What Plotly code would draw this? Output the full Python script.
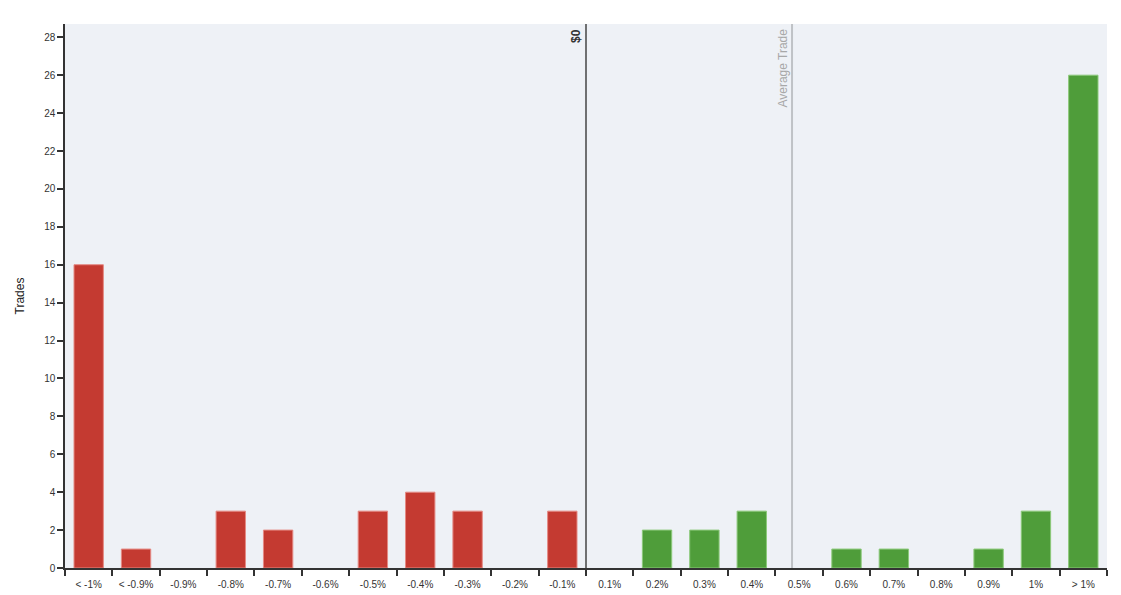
import plotly.graph_objects as go

# ================== DATA ==================
buckets = ['< -1%', '< -0.9%', '-0.9%', '-0.8%', '-0.7%', '-0.6%', '-0.5%', '-0.4%',
           '-0.3%', '-0.2%', '-0.1%', '0.1%', '0.2%', '0.3%', '0.4%', '0.5%',
           '0.6%', '0.7%', '0.8%', '0.9%', '1%', '> 1%']
trades = [16, 1, 0, 3, 2, 0, 3, 4, 3, 0, 3, 0, 2, 2, 3, 0, 1, 1, 0, 1, 3, 26]
y_ticks = list(range(0, 29, 2))
zero_pos = 10.5       # between -0.1% and 0.1%
avg_trade_pos = 14.85  # just left of the 0.5% bucket

RED = '#c43a31'
GREEN = '#4f9d3a'
colors = [RED if i < 11 else GREEN for i in range(len(buckets))]
edges = ['#e58a84' if i < 11 else '#8cc97a' for i in range(len(buckets))]
edge_w = [1 if v > 0 else 0 for v in trades]

fig = go.Figure()
fig.add_trace(go.Bar(x=list(range(len(buckets))), y=trades, width=0.62,
                     marker=dict(color=colors, line=dict(color=edges, width=edge_w)),
                     hoverinfo='y'))

fig.add_shape(type='line', xref='x', yref='paper', x0=zero_pos, x1=zero_pos, y0=0, y1=1,
              line=dict(color='#444444', width=1.5))
fig.add_shape(type='line', xref='x', yref='paper', x0=avg_trade_pos, x1=avg_trade_pos, y0=0, y1=1,
              line=dict(color='#bfc2c6', width=2))
fig.add_annotation(x=zero_pos, y=1, xref='x', yref='paper', text='<b>$0</b>', textangle=-90,
                   showarrow=False, xanchor='right', yanchor='top', xshift=-1, yshift=-3,
                   font=dict(size=12, color='#333333'))
fig.add_annotation(x=avg_trade_pos, y=1, xref='x', yref='paper', text='Average Trade', textangle=-90,
                   showarrow=False, xanchor='right', yanchor='top', xshift=-1, yshift=-3,
                   font=dict(size=12, color='#a8a8a8'))

axis_font = dict(family='Liberation Sans, Arial, sans-serif', size=10, color='#333333')
fig.update_xaxes(tickmode='array', tickvals=list(range(len(buckets))), ticktext=buckets,
                 range=[-0.5, len(buckets) - 0.5], showgrid=False, zeroline=False,
                 showline=True, linecolor='#333333', linewidth=1.5,
                 tickfont=axis_font, ticks='', ticklabelstandoff=6, fixedrange=True)
# boundary ticks drawn as minor ticks
fig.update_xaxes(minor=dict(tickmode='array', tickvals=[i - 0.5 for i in range(len(buckets) + 1)],
                            ticks='outside', ticklen=6, tickcolor='#333333', tickwidth=1.5,
                            showgrid=False))
fig.update_yaxes(range=[0, 28.7], tickvals=y_ticks, showgrid=False, zeroline=False,
                 showline=True, linecolor='#333333', linewidth=1.5,
                 ticks='outside', ticklen=6, tickcolor='#333333', tickwidth=1.5,
                 tickfont=axis_font, title=dict(text='Trades', standoff=17,
                 font=dict(family='Liberation Sans, Arial, sans-serif', size=12, color='#222222')))

fig.update_layout(width=1121, height=595, margin=dict(l=57, r=22, t=16, b=35),
                  plot_bgcolor='#eef1f6', paper_bgcolor='white', showlegend=False,
                  bargap=0.38, font=dict(family='Liberation Sans, Arial, sans-serif'))

fig.write_html("out.html")
